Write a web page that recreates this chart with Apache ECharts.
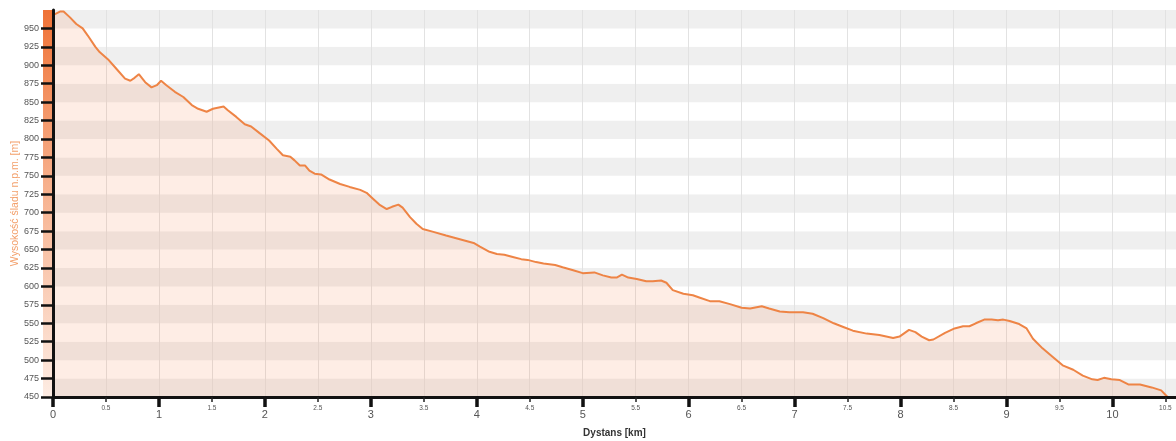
<!DOCTYPE html>
<html>
<head>
<meta charset="utf-8">
<script src="https://cdn.jsdelivr.net/npm/echarts@6/dist/echarts.min.js"></script>
<style>
html,body{margin:0;padding:0;background:#fff;}
#chart{width:1176px;height:441px;}
</style>
</head>
<body>
<div id="chart"></div>
<script>
// Distance along track [km]
const km = [0.00,0.07,0.10,0.16,0.22,0.28,0.33,0.40,0.44,0.52,0.60,0.68,0.73,0.77,0.81,0.87,0.93,0.98,1.02,1.07,
  1.15,1.23,1.31,1.37,1.45,1.51,1.61,1.65,1.73,1.81,1.87,1.95,2.04,2.11,2.17,2.24,2.28,2.33,2.38,2.42,
  2.47,2.53,2.61,2.71,2.80,2.90,2.96,3.02,3.08,3.15,3.20,3.26,3.30,3.37,3.43,3.49,3.59,3.71,3.84,3.97,
  4.03,4.12,4.19,4.26,4.34,4.42,4.48,4.56,4.63,4.74,4.81,4.91,5.00,5.11,5.19,5.27,5.32,5.37,5.43,5.51,
  5.60,5.66,5.74,5.79,5.85,5.95,6.04,6.10,6.20,6.29,6.39,6.50,6.58,6.69,6.76,6.86,6.95,7.08,7.17,7.27,
  7.37,7.46,7.55,7.68,7.80,7.93,7.99,8.08,8.14,8.20,8.27,8.31,8.42,8.51,8.59,8.65,8.71,8.79,8.86,8.92,
  8.97,9.03,9.12,9.19,9.25,9.34,9.44,9.53,9.63,9.72,9.81,9.86,9.92,9.99,10.07,10.15,10.26,10.37,10.46,10.52];
// Elevation [m]
const elev = [968,973,973,965,956,950,940,925,918,908,895,882,879,883,888,877,870,873,879,873,
  864,857,846,841,837,841,844,839,830,820,817,808,798,787,778,776,771,764,764,757,
  753,752,745,739,735,731,727,719,711,705,708,711,707,694,685,678,674,669,664,659,
  654,647,644,643,640,637,636,633,631,629,626,622,618,619,615,612,612,616,612,610,
  607,607,608,605,595,590,588,585,580,580,576,571,570,573,570,566,565,565,563,557,
  550,545,540,536,534,530,532,541,538,532,527,528,537,543,546,546,550,555,555,554,
  555,553,549,543,529,516,504,493,487,479,474,473,476,474,473,467,467,463,459,450];

const xMajorTicks = [0,1,2,3,4,5,6,7,8,9,10];
const xMinorTicks = [0.5,1.5,2.5,3.5,4.5,5.5,6.5,7.5,8.5,9.5,10.5];
const yTicks = [450,475,500,525,550,575,600,625,650,675,700,725,750,775,800,825,850,875,900,925,950];

const X_MIN = 0, X_MAX = 10.6, Y_MIN = 450, Y_MAX = 975;
const GRID = {left: 53, right: 0, top: 10, bottom: 44};

const chart = echarts.init(document.getElementById('chart'), null, {renderer: 'canvas'});

const option = {
  animation: false,
  backgroundColor: '#ffffff',
  textStyle: {fontFamily: '"Liberation Sans", Arial, sans-serif'},
  grid: {left: GRID.left, right: GRID.right, top: GRID.top, bottom: GRID.bottom,
         containLabel: false, outerBoundsMode: 'none'},
  xAxis: [
    {
      type: 'value', min: X_MIN, max: X_MAX, interval: 1, position: 'bottom',
      axisLine: {show: true, lineStyle: {color: '#111', width: 3}},
      axisTick: {show: true, length: 10, lineStyle: {color: '#111', width: 3.5}, customValues: xMajorTicks},
      axisLabel: {show: true, customValues: xMajorTicks, fontSize: 11, color: '#555', margin: 12},
      splitLine: {show: false},
      name: 'Dystans [km]', nameLocation: 'middle', nameGap: 31, nameMoveOverlap: false,
      nameTextStyle: {fontSize: 10, fontWeight: 'bold', color: '#333'},
      z: 5
    },
    {
      type: 'value', min: X_MIN, max: X_MAX, interval: 0.5, position: 'bottom',
      axisLine: {show: false},
      axisTick: {show: true, length: 5, lineStyle: {color: '#222', width: 1.5}, customValues: xMinorTicks},
      axisLabel: {show: true, customValues: xMinorTicks, fontSize: 6.5, color: '#555', margin: 8},
      splitLine: {show: false},
      z: 5
    },
    {
      type: 'value', min: X_MIN, max: X_MAX, interval: 0.5, position: 'bottom',
      axisLine: {show: false}, axisTick: {show: false}, axisLabel: {show: false},
      splitLine: {show: true, lineStyle: {color: '#e2e2e2', width: 1}}
    }
  ],
  yAxis: [
    {
      type: 'value', min: Y_MIN, max: Y_MAX, interval: 25, position: 'left',
      axisLine: {show: false}, axisTick: {show: false}, axisLabel: {show: false},
      splitLine: {show: false},
      splitArea: {show: true, areaStyle: {color: ['#efefef', '#ffffff']}}
    },
    {
      type: 'value', min: Y_MIN, max: Y_MAX, interval: 25, position: 'left',
      axisLine: {show: true, lineStyle: {color: '#111', width: 3}},
      axisTick: {show: true, length: 12, lineStyle: {color: '#111', width: 2.5}, customValues: yTicks},
      axisLabel: {show: true, customValues: yTicks, fontSize: 9, color: '#555', margin: 14},
      splitLine: {show: false}, splitArea: {show: false},
      name: 'Wysokość śladu n.p.m. [m]', nameLocation: 'middle', nameGap: 32, nameMoveOverlap: false,
      nameTextStyle: {fontSize: 10.5, color: '#f3a06c'},
      z: 5
    }
  ],
  graphic: [{
    type: 'rect', z: 1,
    shape: {x: GRID.left - 10, y: GRID.top, width: 10, height: 441 - GRID.top - GRID.bottom},
    style: {
      fill: new echarts.graphic.LinearGradient(0, 0, 0, 1, [
        {offset: 0, color: '#ef7236'},
        {offset: 0.45, color: '#f7b08c'},
        {offset: 1, color: '#fdece3'}
      ])
    }
  }],
  series: [{
    type: 'line',
    xAxisIndex: 0, yAxisIndex: 0,
    data: km.map((k, i) => [k, elev[i]]),
    showSymbol: false, smooth: false,
    lineStyle: {color: '#ee8445', width: 2},
    areaStyle: {color: 'rgba(247,130,70,0.2)'},
    z: 3
  }]
};
chart.setOption(option);
</script>
</body>
</html>
